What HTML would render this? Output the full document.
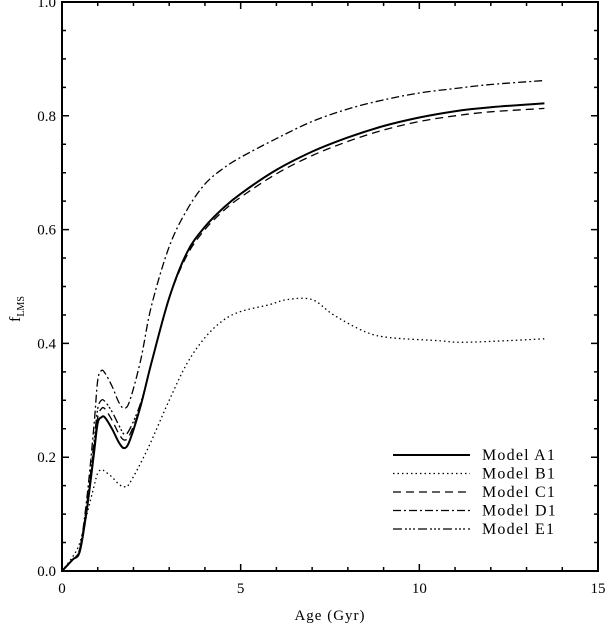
<!DOCTYPE html>
<html><head><meta charset="utf-8"><style>
body{margin:0;background:#fff}
svg text{font-family:"Liberation Serif",serif;fill:#000}
</style></head><body>
<svg id="chart" width="608" height="625" xmlns="http://www.w3.org/2000/svg"></svg>
<script>
const xTicks=[0,5,10,15];
const yTicks=[0.0,0.2,0.4,0.6,0.8,1.0];
const yTickLabels=["0.0","0.2","0.4","0.6","0.8","1.0"];
const ages=[0,0.3,0.5,0.7,0.9,1.0,1.1,1.2,1.4,1.6,1.75,1.9,2.2,2.5,3,3.5,4,4.5,5,6,7,8,9,10,11,12,13.5];
const modelA1=[0,0.02,0.035,0.11,0.21,0.26,0.27,0.27,0.25,0.225,0.216,0.23,0.29,0.365,0.48,0.56,0.605,0.637,0.663,0.705,0.737,0.762,0.782,0.797,0.808,0.815,0.822];
const modelC1=[0,0.02,0.035,0.115,0.22,0.27,0.285,0.285,0.265,0.24,0.23,0.24,0.29,0.365,0.48,0.555,0.6,0.632,0.657,0.698,0.73,0.755,0.775,0.79,0.8,0.807,0.813];
const modelE1=[0,0.02,0.04,0.12,0.23,0.285,0.3,0.298,0.28,0.255,0.24,0.25,0.295,0.365,0.48,0.56,0.605,0.637,0.663,0.705,0.737,0.762,0.782,0.797,0.808,0.815,0.822];
const modelD1=[0,0.02,0.04,0.13,0.26,0.335,0.352,0.348,0.325,0.295,0.286,0.3,0.37,0.465,0.57,0.635,0.68,0.707,0.727,0.76,0.79,0.812,0.828,0.84,0.848,0.855,0.862];
const bAges=[0,0.3,0.5,0.7,0.9,1.0,1.1,1.2,1.4,1.6,1.75,1.9,2.4,3,3.5,4,4.5,5,5.8,6.3,7,7.6,8.5,9.2,10.5,11.2,12.5,13.5];
const modelB1=[0,0.025,0.05,0.1,0.15,0.172,0.178,0.175,0.165,0.152,0.148,0.155,0.215,0.3,0.365,0.41,0.44,0.456,0.468,0.477,0.477,0.45,0.42,0.41,0.405,0.402,0.405,0.408];
const svg=document.getElementById('chart');
const NS='http://www.w3.org/2000/svg';
const X0=62,X1=598,Y0=571,Y1=2;
const xs=v=>X0+(v/15)*(X1-X0);
const ys=v=>Y0-v*(Y0-Y1);
function mk(tag,attrs){const e=document.createElementNS(NS,tag);for(const k in attrs)e.setAttribute(k,attrs[k]);svg.appendChild(e);return e;}
function smooth(pts){let d='M'+pts[0][0].toFixed(1)+','+pts[0][1].toFixed(1);
 for(let i=0;i<pts.length-1;i++){const p0=pts[Math.max(0,i-1)],p1=pts[i],p2=pts[i+1],p3=pts[Math.min(pts.length-1,i+2)];
  const c1x=p1[0]+(p2[0]-p0[0])/6,c1y=p1[1]+(p2[1]-p0[1])/6,c2x=p2[0]-(p3[0]-p1[0])/6,c2y=p2[1]-(p3[1]-p1[1])/6;
  d+=`C${c1x.toFixed(1)},${c1y.toFixed(1)} ${c2x.toFixed(1)},${c2y.toFixed(1)} ${p2[0].toFixed(1)},${p2[1].toFixed(1)}`;}
 return d;}
let f=mk('rect',{x:X0,y:Y1,width:X1-X0,height:Y0-Y1,fill:'none',stroke:'#000','stroke-width':2});


for(let i=0;i<=15;i++){const maj=i%5===0,L=maj?7:4;
 let t=mk('path',{d:`M${xs(i)},${Y0}v${-L}M${xs(i)},${Y1}v${L}`,stroke:'#000','stroke-width':1.5});
 
 }
xTicks.forEach(v=>{let t=mk('text',{x:xs(v),y:Y0+22,'text-anchor':'middle','font-size':15});t.textContent=v;
 
 });
for(let i=0;i<=20;i++){const v=i*0.05,maj=i%4===0,L=maj?7:4;
 let t=mk('path',{d:`M${X0},${ys(v)}h${L}M${X1},${ys(v)}h${-L}`,stroke:'#000','stroke-width':1.5});
 
 }
yTicks.forEach((v,i)=>{let t=mk('text',{x:X0-6,y:ys(v)+5,'text-anchor':'end','font-size':15});t.textContent=yTickLabels[i];
 
 });
let xl=mk('text',{x:(X0+X1)/2,y:620,'text-anchor':'middle','font-size':15,'letter-spacing':'1'});xl.textContent='Age (Gyr)';


let yl=mk('text',{transform:'translate(20,322) rotate(-90)','font-size':16});
yl.innerHTML='f<tspan font-size="10" dy="4">LMS</tspan>';


const series=[
 ['model-a1',ages,modelA1,'',2,'Model A1'],
 ['model-b1',bAges,modelB1,'1.5 3',1.3,'Model B1'],
 ['model-c1',ages,modelC1,'8 5',1.3,'Model C1'],
 ['model-d1',ages,modelD1,'8 3 2 3',1.3,'Model D1'],
 ['model-e1',ages,modelE1,'9 3 2 2 2 2 2 3',1.3,'Model E1']];
series.forEach((s,i)=>{
 const pts=s[1].map((a,j)=>[xs(a),ys(s[2][j])]);
 let p=mk('path',{d:smooth(pts),fill:'none',stroke:'#000','stroke-width':s[4],'stroke-dasharray':s[3],'stroke-linejoin':'round'});
 
 
 const ly=455+i*18.5;
 let l=mk('path',{d:`M393,${ly}H470`,stroke:'#000','stroke-width':s[4],'stroke-dasharray':s[3]});
 
 
 let t=mk('text',{x:482,y:ly+5,'font-size':16,'letter-spacing':'1.2'});t.textContent=s[5];
 
 
});
</script>
</body></html>
